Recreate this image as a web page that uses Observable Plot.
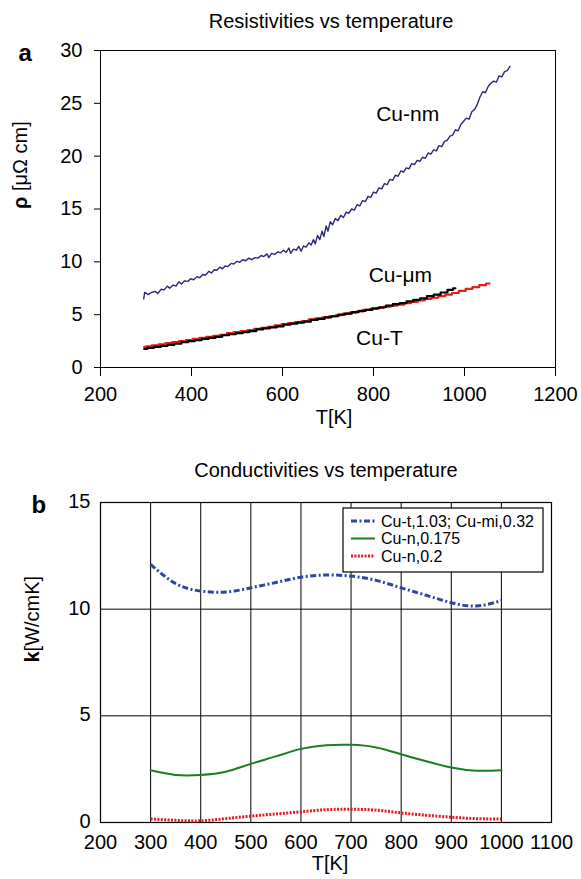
<!DOCTYPE html>
<html>
<head>
<meta charset="utf-8">
<script src="https://cdn.jsdelivr.net/npm/d3@7"></script>
<script src="https://cdn.jsdelivr.net/npm/@observablehq/plot@0.6"></script>
<style>
  body { margin: 0; background: #fff; }
  #chart svg { display: block; }
</style>
</head>
<body>
<div id="chart"></div>
<script>
// ---- Panel a: resistivity data ----
const nmT = [295,297,305,312,320,326,333,340,347,352,360,366,372,378,385,392,398,405,412,418,425,431,438,444,
  450,456,462,468,474,480,487,493,500,506,512,519,526,532,540,546,553,559,566,570,576,583,590,596,
  602,608,614,618,624,630,636,641,646,652,658,663,668,672,677,682,687,691,696,700,705,710,716,722,
  728,734,740,746,752,758,764,770,776,782,788,794,800,806,812,818,824,830,836,842,848,854,860,866,
  872,878,884,890,896,902,908,914,920,926,932,938,944,950,956,962,968,974,980,986,992,998,
  1004,1010,1016,1022,1028,1034,1040,1046,1052,1058,1064,1070,1076,1082,1088,1094,1100];
const nmRho = [6.5,7.1,6.9,7.1,7.2,7.0,7.4,7.35,7.7,7.5,7.8,7.7,8.1,7.9,8.2,8.15,8.4,8.3,8.6,8.5,8.8,8.75,9.1,8.95,
  9.25,9.2,9.5,9.35,9.6,9.55,9.85,9.8,10.05,9.95,10.2,10.1,10.35,10.2,10.4,10.35,10.6,10.5,10.75,10.4,10.8,10.7,10.95,10.85,
  11.1,10.9,11.3,10.8,11.2,11.1,11.45,11.0,11.5,11.4,11.8,11.6,12.1,11.7,12.5,12.1,12.9,12.4,13.4,12.9,13.8,13.5,14.1,13.9,
  14.4,14.2,14.7,14.6,15.0,14.9,15.4,15.3,15.8,15.7,16.2,16.1,16.6,16.5,17.0,16.9,17.4,17.3,17.8,17.7,18.2,18.1,18.6,18.5,
  18.9,18.8,19.3,19.2,19.6,19.5,19.9,19.8,20.3,20.2,20.6,20.5,21.0,20.9,21.4,21.5,21.9,22.0,22.5,22.4,23.0,23.3,
  23.6,23.5,24.2,24.4,24.9,25.6,26.1,26.0,26.6,26.9,27.1,27.0,27.6,27.5,28.0,28.1,28.5];

const cuTT = [296,310,325,340,355,370,385,400,415,430,445,460,475,490,505,520,535,550,565,580,595,
  610,625,640,655,670,685,700,715,730,745,760,775,790,805,820,835,850,865,880,895,910,925,940,955,970,980];
const cuTRho = [1.75,1.85,1.95,2.05,2.15,2.25,2.4,2.5,2.6,2.7,2.8,2.9,3.05,3.15,3.25,3.35,3.45,3.6,3.7,3.8,3.9,
  4.05,4.15,4.25,4.35,4.5,4.6,4.75,4.85,5.0,5.1,5.25,5.35,5.45,5.6,5.7,5.85,6.0,6.1,6.25,6.4,6.55,6.75,6.9,7.1,7.35,7.5];

const umT = [296,305,320,335,350,365,380,395,410,425,440,455,470,485,500,515,530,545,560,575,590,
  605,620,635,650,665,680,695,710,725,740,755,770,785,800,815,830,845,860,875,890,905,920,935,950,965,980,
  995,1010,1025,1040,1055];
const umRho = [1.95,2.0,2.1,2.2,2.3,2.4,2.5,2.6,2.7,2.8,2.9,3.0,3.1,3.25,3.35,3.45,3.55,3.65,3.75,3.85,4.0,
  4.1,4.2,4.3,4.4,4.55,4.65,4.75,4.85,4.95,5.1,5.2,5.3,5.45,5.55,5.65,5.75,5.85,5.95,6.1,6.2,6.35,6.5,6.6,6.75,6.9,7.05,
  7.25,7.45,7.6,7.8,7.95];

const seriesLabelsA = ["Cu-nm", "Cu-μm", "Cu-T"];
const labelTA = [875, 859, 813];
const labelRhoA = [24.0, 8.75, 2.75];

const xTicksA = [200, 400, 600, 800, 1000, 1200];
const yTicksA = [0, 5, 10, 15, 20, 25, 30];

// ---- Panel b: conductivity data ----
const kT = [300,350,400,450,500,550,600,650,700,750,800,850,900,950,1000];
const kCuT = [12.1,11.2,10.85,10.8,11.0,11.25,11.5,11.6,11.55,11.35,11.0,10.65,10.3,10.15,10.4];
const kCuN175 = [2.45,2.23,2.23,2.38,2.75,3.1,3.45,3.62,3.64,3.52,3.2,2.87,2.58,2.43,2.45];
const kCuN2 = [0.17,0.1,0.08,0.18,0.3,0.4,0.5,0.6,0.62,0.58,0.45,0.34,0.25,0.18,0.17];

const legendLabelsB = ["Cu-t,1.03; Cu-mi,0.32", "Cu-n,0.175", "Cu-n,0.2"];
const xTicksB = [200, 300, 400, 500, 600, 700, 800, 900, 1000, 1100];
const yTicksB = [0, 5, 10, 15];

// ---- shared styling ----
const FONT = "'Liberation Sans', Arial, Helvetica, sans-serif";
const baseStyle = { fontFamily: FONT, fontSize: "20px", color: "black", background: "white", overflow: "visible" };

const nm = nmT.map((t, i) => ({ T: t, rho: nmRho[i] }));
const cuT = cuTT.map((t, i) => ({ T: t, rho: cuTRho[i] }));
const um = umT.map((t, i) => ({ T: t, rho: umRho[i] }));
const labelsA = seriesLabelsA.map((s, i) => ({ T: labelTA[i], rho: labelRhoA[i], label: s }));

const plotA = Plot.plot({
  width: 581, height: 440,
  marginLeft: 100, marginRight: 26, marginTop: 50, marginBottom: 73,
  style: baseStyle,
  x: { domain: [200, 1200] },
  y: { domain: [0, 30] },
  marks: [
    Plot.frame({ stroke: "black", strokeWidth: 1 }),
    Plot.axisX({ ticks: xTicksA, tickSize: 9, tickPadding: 10, fontSize: 20, label: null, tickFormat: d => String(d) }),
    Plot.axisY({ ticks: yTicksA, tickSize: 6, tickPadding: 12, fontSize: 20, label: null }),
    Plot.line(nm, { x: "T", y: "rho", stroke: "#2a2878", strokeWidth: 1.4 }),
    Plot.line(um, { x: "T", y: "rho", curve: "step", stroke: "#e3201b", strokeWidth: 2.2 }),
    Plot.line(cuT, { x: "T", y: "rho", curve: "step", stroke: "black", strokeWidth: 2.2 }),
    Plot.text(labelsA, { x: "T", y: "rho", text: "label", fontSize: 21 }),
    Plot.text(["Resistivities vs temperature"], { frameAnchor: "top", dx: 3, dy: -37, fontSize: 20 }),
    Plot.text(["a"], { frameAnchor: "top-left", dx: -82, dy: -7, fontSize: 24, fontWeight: "bold" }),
    Plot.text(["T[K]"], { frameAnchor: "bottom", dx: 6, dy: 56, fontSize: 20 }),
    Plot.text(["ρ [μΩ cm]"], { frameAnchor: "left", dx: -80, rotate: -90, fontSize: 20 })
  ]
});

const legendStyles = [
  { stroke: "#2c46a0", width: 3, dash: "6,2.5,2,2.5" },
  { stroke: "#1e7b28", width: 2, dash: null },
  { stroke: "#e8191e", width: 3, dash: "2,1.4" }
];

const cuTk = kT.map((t, i) => ({ T: t, k: kCuT[i] }));
const n175 = kT.map((t, i) => ({ T: t, k: kCuN175[i] }));
const n2 = kT.map((t, i) => ({ T: t, k: kCuN2[i] }));

const plotB = Plot.plot({
  width: 581, height: 439,
  marginLeft: 100, marginRight: 30, marginTop: 62, marginBottom: 57,
  style: baseStyle,
  x: { domain: [200, 1100] },
  y: { domain: [0, 15] },
  marks: [
    Plot.gridX(xTicksB, { stroke: "black", strokeOpacity: 1, strokeWidth: 1 }),
    Plot.gridY([5, 10], { stroke: "black", strokeOpacity: 1, strokeWidth: 1 }),
    Plot.frame({ stroke: "black", strokeWidth: 1.2 }),
    Plot.axisX({ ticks: xTicksB, tickSize: 0, tickPadding: 12, fontSize: 20, label: null, tickFormat: d => String(d) }),
    Plot.axisY({ ticks: yTicksB, tickSize: 0, tickPadding: 10, fontSize: 20, label: null, dy: -1 }),
    Plot.line(cuTk, { x: "T", y: "k", curve: "natural", stroke: legendStyles[0].stroke, strokeWidth: 3, strokeDasharray: legendStyles[0].dash, strokeLinecap: "butt" }),
    Plot.line(n175, { x: "T", y: "k", curve: "natural", stroke: legendStyles[1].stroke, strokeWidth: 2 }),
    Plot.line(n2, { x: "T", y: "k", curve: "natural", stroke: legendStyles[2].stroke, strokeWidth: 3, strokeDasharray: legendStyles[2].dash, strokeLinecap: "butt" }),
    Plot.text(["Conductivities vs temperature"], { frameAnchor: "top", dy: -40, fontSize: 20 }),
    Plot.text(["b"], { frameAnchor: "top-left", dx: -69, dy: -7, fontSize: 24, fontWeight: "bold" }),
    Plot.text(["T[K]"], { frameAnchor: "bottom", dx: 4, dy: 47, fontSize: 20 }),
    Plot.text(["k[W/cmK]"], { frameAnchor: "left", dx: -68, rotate: -90, fontSize: 20 })
  ]
});

// Bold symbol at the start of each y-axis title
function boldLead(svg, full, lead) {
  d3.select(svg).selectAll("text").each(function () {
    if (this.textContent === full) {
      const t = d3.select(this);
      t.text(null);
      t.append("tspan").attr("font-weight", "bold").text(lead);
      t.append("tspan").text(full.slice(lead.length));
    }
  });
}
boldLead(plotA, "ρ [μΩ cm]", "ρ");
boldLead(plotB, "k[W/cmK]", "k");

// Line-style legend in the upper right of panel b
{
  const svg = d3.select(plotB);
  const right = 581 - 30 - 8, top = 62 + 6;
  const w = 200, h = 64;
  const g = svg.append("g").attr("font-family", FONT).attr("font-size", 16).attr("text-anchor", "start");
  g.append("rect").attr("x", right - w).attr("y", top).attr("width", w).attr("height", h)
    .attr("fill", "white").attr("stroke", "black").attr("stroke-width", 1.2);
  legendLabelsB.forEach((label, i) => {
    const cy = top + 13 + i * 17.5;
    const s = legendStyles[i];
    const ln = g.append("line").attr("x1", right - w + 8).attr("x2", right - w + 32).attr("y1", cy).attr("y2", cy)
      .attr("stroke", s.stroke).attr("stroke-width", s.width);
    if (s.dash) ln.attr("stroke-dasharray", s.dash);
    g.append("text").attr("x", right - w + 38).attr("y", cy).attr("dy", "0.35em").attr("fill", "black").text(label);
  });
}

document.getElementById("chart").append(plotA, plotB);
</script>
</body>
</html>
